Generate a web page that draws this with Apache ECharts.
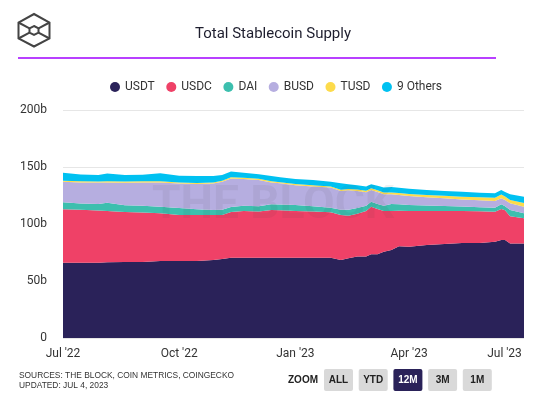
<!DOCTYPE html>
<html>
<head>
<meta charset="utf-8">
<script src="https://cdn.jsdelivr.net/npm/echarts@6/dist/echarts.min.js"></script>
<style>
  html, body { margin: 0; padding: 0; background: #fff; }
  #main { width: 556px; height: 399px; }
</style>
</head>
<body>
<div id="main"></div>
<script>
// dates of the readings (roughly every 2 weeks, more around March 2023)
const dates = ['2022-07-01', '2022-07-15', '2022-07-29', '2022-08-05', '2022-08-19', '2022-09-02', '2022-09-16',
  '2022-10-01', '2022-10-15', '2022-10-28', '2022-11-04', '2022-11-11', '2022-11-21', '2022-12-03', '2022-12-13',
  '2022-12-20', '2023-01-01', '2023-01-15', '2023-01-29', '2023-02-06', '2023-02-12', '2023-02-19', '2023-02-26',
  '2023-03-02', '2023-03-07', '2023-03-12', '2023-03-18', '2023-03-24', '2023-04-01', '2023-04-15', '2023-04-29',
  '2023-05-13', '2023-05-27', '2023-06-08', '2023-06-13', '2023-06-16', '2023-06-20', '2023-07-01']

// supply in billions
const usdt = [66, 66, 66, 66.5, 66.7, 66.7, 67.5, 67.5, 67.5, 68.4, 69.3, 70.4, 70.4, 70.4, 70.4, 70.4, 70.4, 70.4, 70.4,
  68.4, 69.9, 71.4, 71.4, 73.4, 73.4, 75.7, 77.2, 80.4, 80.1, 81.6, 82.5, 83.3, 83.3, 84.5, 86, 86, 83, 83]
const usdc = [47, 46.5, 45.8, 44.9, 43.8, 43.3, 41.9, 40.4, 40.4, 39.5, 38.7, 40.1, 41, 40.6, 41.9, 41.6, 41.1, 40.6, 39.8,
  39.6, 37.4, 37.6, 40, 41.8, 39.8, 35.7, 34.2, 31.3, 31.3, 29.8, 28.9, 28.1, 27.9, 26.3, 27.2, 26, 23.7, 22]
const dai = [6, 5.5, 5.7, 7.3, 6, 6, 5.8, 6.1, 5.1, 4.4, 4.5, 4.5, 4.6, 4.6, 5, 5, 5.2, 4.5, 4.1,
  4.5, 5.2, 5, 4.6, 4.4, 4.3, 4.7, 6.1, 5.6, 5.3, 4.9, 4.4, 3.9, 3.6, 3.5, 4.1, 3.5, 5.5, 4.4]
const busd = [18, 18.5, 18.8, 17.8, 19.7, 20.5, 21.3, 21.5, 22, 23.2, 24.5, 25, 23.5, 23, 19.2, 18.7, 17.3, 17.5, 17.7,
  16.5, 17, 15, 11.8, 10.2, 10.5, 9.9, 8.5, 8.2, 7.8, 7.2, 6.7, 6.2, 6, 5.9, 5.2, 5.5, 5.9, 5.8]
const tusd = [1, 1, 1, 1, 1, 1, 1, 1, 1, 1, 1, 1, 1, 1, 1, 1, 1, 1, 1,
  1.1, 1.2, 1.3, 1.4, 1.5, 1.5, 1.6, 1.7, 1.8, 1.9, 2, 2.2, 2.4, 2.6, 2.8, 3.4, 3.2, 2.9, 3.2]
const others = [7, 6, 5.7, 6.9, 5.8, 5.8, 7, 5.9, 6.1, 5.5, 5, 5, 4.5, 4, 4.5, 4.3, 4.5, 4.5, 4.1,
  5.6, 4.1, 3.7, 3.6, 3.5, 4, 4.4, 4.8, 4.5, 4.6, 4.3, 4.3, 4.4, 4.1, 3.9, 3.9, 3.8, 5, 5.6]

const seriesNames = ['USDT', 'USDC', 'DAI', 'BUSD', 'TUSD', '9 Others']
const colors = ['#2a2259', '#ef4167', '#3cbfae', '#b6aee0', '#fddb4b', '#00c1f1']
const tickDates = ['2022-07-01', '2022-10-01', '2023-01-01', '2023-04-01', '2023-07-01']
const tickLabels = ["Jul '22", "Oct '22", "Jan '23", "Apr '23", "Jul '23"]
const zoomButtons = ['ALL', 'YTD', '12M', '3M', '1M']

const ts = d => Date.parse(d + 'T00:00:00')
const tickTimes = tickDates.map(ts)
const allData = [usdt, usdc, dai, busd, tusd, others]

const series = allData.map((vals, i) => ({
  name: seriesNames[i],
  type: 'line',
  stack: 'total',
  symbol: 'none',
  lineStyle: { width: 0 },
  areaStyle: { color: colors[i], opacity: 1 },
  color: colors[i],
  data: vals.map((v, j) => [ts(dates[j]), v])
}))

// zoom buttons + logo drawn with graphic
const buttons = []
zoomButtons.forEach((b, i) => {
  const x = 324 + i * 34.7
  const active = b === '12M'
  buttons.push({
    type: 'rect', left: x, top: 369, shape: { width: 29, height: 22, r: 2 },
    style: { fill: active ? '#2a2259' : '#d9d9d9' }
  })
  buttons.push({
    type: 'text', x: x + 14.5, y: 380.5,
    style: { text: b, fill: active ? '#fff' : '#222', font: 'bold 10px "Liberation Sans", Arial', align: 'center', verticalAlign: 'middle' }
  })
})

const logoStroke = { stroke: '#444', lineWidth: 2, fill: null }
const logo = [
  { type: 'polygon', shape: { points: [[34, 14], [49.5, 22.5], [49.5, 38.5], [34, 46.5], [18.5, 38.5], [18.5, 22.5]] }, style: logoStroke },
  { type: 'polygon', shape: { points: [[34, 26], [38.5, 28.3], [38.5, 32.7], [34, 35], [29.5, 32.7], [29.5, 28.3]] }, style: logoStroke },
  { type: 'line', shape: { x1: 18.5, y1: 22.5, x2: 29.5, y2: 28.3 }, style: logoStroke },
  { type: 'line', shape: { x1: 49.5, y1: 22.5, x2: 38.5, y2: 28.3 }, style: logoStroke },
  { type: 'line', shape: { x1: 18.5, y1: 38.5, x2: 29.5, y2: 32.7 }, style: logoStroke },
  { type: 'line', shape: { x1: 49.5, y1: 38.5, x2: 38.5, y2: 32.7 }, style: logoStroke }
]

const myChart = echarts.init(document.getElementById('main'))
myChart.setOption({
  animation: false,
  textStyle: { fontFamily: 'Roboto, "Noto Sans", sans-serif' },
  title: {
    text: 'Total Stablecoin Supply',
    left: 190,
    top: 22,
    textStyle: { fontSize: 15, fontWeight: 'normal', color: '#1e1e2e', fontFamily: 'Roboto, sans-serif' }
  },
  legend: {
    data: seriesNames,
    top: 76,
    left: 105,
    icon: 'circle',
    itemWidth: 10,
    itemHeight: 10,
    itemGap: 11.5,
    textStyle: { fontSize: 12, color: '#333', fontFamily: 'Roboto, sans-serif' }
  },
  grid: { left: 63, right: 32, top: 110, bottom: 61 },
  xAxis: {
    type: 'time',
    min: tickTimes[0],
    max: tickTimes[tickTimes.length - 1],
    splitNumber: 4,
    axisLine: { show: false },
    axisTick: { show: false },
    splitLine: { show: false },
    axisLabel: {
      margin: 10,
      fontSize: 12,
      fontWeight: 'normal',
      color: '#333',
      formatter: v => {
        let best = 0
        tickTimes.forEach((t, i) => { if (Math.abs(t - v) < Math.abs(tickTimes[best] - v)) best = i })
        if (Math.abs(tickTimes[best] - v) > 86400000 * 3) return ''
        // last label sits left of the final tick, like the original
        return best === tickTimes.length - 1 ? '{last|' + tickLabels[best] + '}' : tickLabels[best]
      },
      rich: {
        last: { fontSize: 12, color: '#333', padding: [0, 39, 0, 0] }
      }
    }
  },
  yAxis: {
    type: 'value',
    min: 0,
    max: 200,
    interval: 50,
    axisLine: { show: false },
    axisTick: { show: false },
    axisLabel: {
      margin: 16,
      fontSize: 12,
      color: '#333',
      formatter: v => (v === 0 ? '0' : v + 'b')
    },
    splitLine: { lineStyle: { color: '#e6e6e6' } }
  },
  graphic: [
    ...logo,
    { type: 'line', shape: { x1: 18, y1: 58, x2: 496, y2: 58 }, style: { stroke: '#a100ff', lineWidth: 1.5 } },
    {
      type: 'text', x: 273, y: 206, z: 100,
      style: { text: 'THE BLOCK', fill: 'rgba(60,60,60,0.07)', font: 'bold 46px Roboto, sans-serif', align: 'center', verticalAlign: 'middle' }
    },
    {
      type: 'text', x: 19, y: 376,
      style: { text: 'SOURCES: THE BLOCK, COIN METRICS, COINGECKO', fill: '#333', font: '8.4px "Liberation Sans", Arial', verticalAlign: 'middle' }
    },
    {
      type: 'text', x: 19, y: 386,
      style: { text: 'UPDATED: JUL 4, 2023', fill: '#333', font: '8.4px "Liberation Sans", Arial', verticalAlign: 'middle' }
    },
    {
      type: 'text', x: 288, y: 380.5,
      style: { text: 'ZOOM', fill: '#222', font: 'bold 10px "Liberation Sans", Arial', verticalAlign: 'middle' }
    },
    ...buttons
  ],
  series: series
})
</script>
</body>
</html>
